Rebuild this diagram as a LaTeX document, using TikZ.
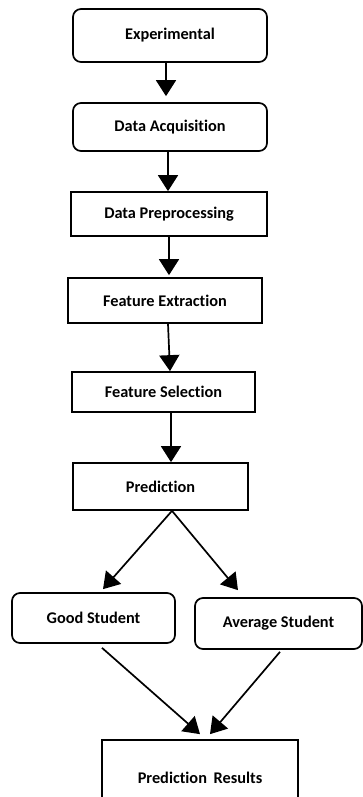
\documentclass[tikz,border=0pt]{standalone}
\usepackage{fontspec}
\setmainfont{Carlito}[Ligatures=NoCommon]
\usetikzlibrary{arrows.meta}
\begin{document}
\begin{tikzpicture}[x=1pt,y=-1pt,
  base/.style={draw, line width=1.7pt, inner sep=0pt, align=center,
    font=\bfseries\fontsize{16.3}{19}\selectfont},
  sqbox/.style={base},
  rbox/.style={base, rounded corners=8pt},
  arr/.style={line width=1.7pt, -{Triangle[width=20pt,length=16pt]}}
]
\useasboundingbox (0,0) rectangle (363,797);
\clip (0,0) rectangle (363,797);

\node[rbox, minimum width=194pt, minimum height=53pt] (exp) at (170,35.5) {Experimental};
\node[rbox, minimum width=194pt, minimum height=48pt] (acq) at (170,127) {Data Acquisition};
\node[sqbox, minimum width=196pt, minimum height=44pt] (pre) at (169,214) {Data Preprocessing};
\node[sqbox, minimum width=194pt, minimum height=45pt] (fe) at (165,300.5) {Feature Extraction};
\node[sqbox, minimum width=183pt, minimum height=40pt] (fs) at (163.5,392) {Feature Selection};
\node[sqbox, minimum width=175pt, minimum height=47pt] (pred) at (160.5,486.5) {Prediction};
\node[rbox, minimum width=163pt, minimum height=50pt] (good) at (93.5,618) {Good Student};
\node[rbox, minimum width=167pt, minimum height=51pt] (avg) at (278.5,623.5) {Average Student};
\node[sqbox, minimum width=196pt, minimum height=76pt] (res) at (200,778) {Prediction\hspace{3pt} Results};

\draw[arr] ([xshift=-4pt]exp.south) -- ([xshift=-4pt,yshift=6pt]acq.north);
\draw[arr] ([xshift=-2pt]acq.south) -- ([xshift=-1pt]pre.north);
\draw[arr] ([xshift=0pt]pre.south) -- ([xshift=4pt,yshift=2pt]fe.north);
\draw[arr] ([xshift=3pt]fe.south) -- ([xshift=6.5pt]fs.north);
\draw[arr] ([xshift=7.5pt]fs.south) -- ([xshift=10.5pt]pred.north);
\draw[arr] ([xshift=11.5pt]pred.south) -- ([xshift=9.5pt,yshift=3pt]good.north);
\draw[arr] ([xshift=11.5pt]pred.south) -- ([xshift=-40.5pt,yshift=7pt]avg.north);
\draw[arr] ([xshift=8.5pt,yshift=-4pt]good.south) -- ([xshift=0pt,yshift=5pt]res.north);
\draw[arr] ([xshift=1.5pt,yshift=-2pt]avg.south) -- ([xshift=10pt,yshift=5pt]res.north);
\end{tikzpicture}
\end{document}
